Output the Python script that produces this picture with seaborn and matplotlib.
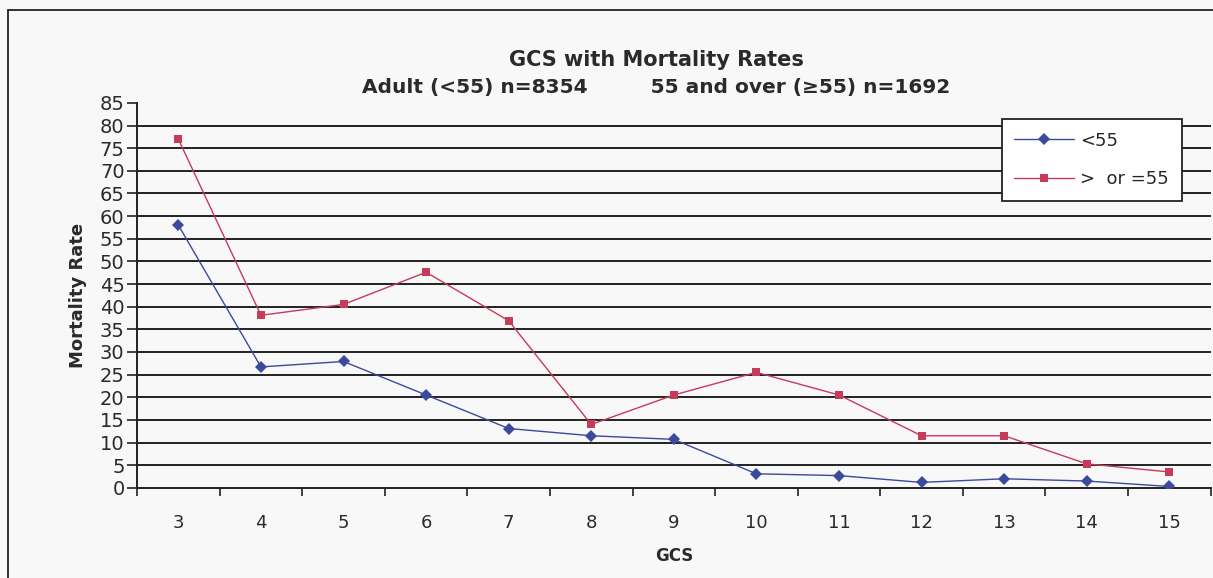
import pandas as pd
import matplotlib
matplotlib.use('Agg')
import matplotlib.pyplot as plt
from matplotlib.lines import Line2D
import seaborn as sns
import numpy as np

# datos
gcs = [3, 4, 5, 6, 7, 8, 9, 10, 11, 12, 13, 14, 15]
menor_55 = [58, 26.7, 27.9, 20.5, 13.1, 11.5, 10.7, 3.1, 2.7, 1.2, 2.0, 1.5, 0.3]
mayor_55 = [77, 38.1, 40.5, 47.6, 36.9, 14.0, 20.5, 25.5, 20.5, 11.5, 11.5, 5.3, 3.5]
etiquetas = ['<55', '>  or =55']

df = pd.DataFrame({
    'GCS': gcs * 2,
    'Mortality Rate': menor_55 + mayor_55,
    'grupo': [etiquetas[0]] * len(gcs) + [etiquetas[1]] * len(gcs),
})

sns.set_style('white')
plt.rcParams['font.family'] = ['DejaVu Sans']

fondo = '#f7f8f7'
texto = '#2a2a2a'
fig = plt.figure(figsize=(12.13, 5.78), dpi=100, facecolor=fondo)
ax = fig.add_axes([0.113, 0.156, 0.885, 0.666])
ax.set_facecolor(fondo)

sns.lineplot(data=df, x='GCS', y='Mortality Rate', hue='grupo', style='grupo',
             palette={etiquetas[0]: '#3b4a9c', etiquetas[1]: '#c63a5a'},
             markers={etiquetas[0]: 'D', etiquetas[1]: 's'},
             dashes=False, linewidth=1.0, markersize=6, markeredgewidth=0,
             ax=ax, zorder=3)

# lineas de cuadricula horizontales
for v in range(5, 85, 5):
    ax.axhline(v, color='#222222', linewidth=1.4, zorder=1)

ax.set_xlim(2.5, 15.5)
ax.set_ylim(0, 85)
ax.set_yticks(range(0, 90, 5))
ax.set_xticks(gcs)
ax.set_xticks(np.arange(2.5, 16, 1), minor=True)
ax.tick_params(axis='x', which='major', length=0, pad=19, labelsize=13, labelcolor=texto)
ax.tick_params(axis='x', which='minor', length=6, width=1.2, direction='out', color='#222222')
ax.tick_params(axis='y', length=7, width=1.2, direction='out', color='#222222', pad=2,
               labelsize=14, labelcolor=texto)
ax.tick_params(left=True, bottom=True, which='both')

for s in ['top', 'right']:
    ax.spines[s].set_visible(False)
for s in ['left', 'bottom']:
    ax.spines[s].set_color('#222222')
    ax.spines[s].set_linewidth(1.4)

ax.set_xlabel('GCS', fontsize=12, fontweight='bold', labelpad=11, color=texto)
ax.set_ylabel('Mortality Rate', fontsize=13, fontweight='bold', labelpad=9, color=texto)

fig.text(0.541, 0.896, 'GCS with Mortality Rates', ha='center', va='center',
         fontsize=15, fontweight='bold', color=texto)
fig.text(0.541, 0.849, 'Adult (<55) n=8354         55 and over (\u226555) n=1692', ha='center',
         va='center', fontsize=14.5, fontweight='bold', color=texto)

leg = ax.legend(loc='upper left', bbox_to_anchor=(0.8055, 0.958), fontsize=13,
                frameon=True, fancybox=False, edgecolor='#222222', framealpha=1,
                handlelength=3.3, borderpad=0.7, labelspacing=1.15, handletextpad=0.35,
                borderaxespad=0)
leg.get_frame().set_facecolor('white')
leg.get_frame().set_linewidth(1.3)
leg.set_zorder(5)

# marco exterior
fig.add_artist(Line2D([0.0066, 0.0066], [0.0, 0.983], color='#222222', linewidth=1.3))
fig.add_artist(Line2D([0.0066, 1.0], [0.983, 0.983], color='#222222', linewidth=1.3))

fig.savefig('out.png', dpi=100, facecolor=fondo)
